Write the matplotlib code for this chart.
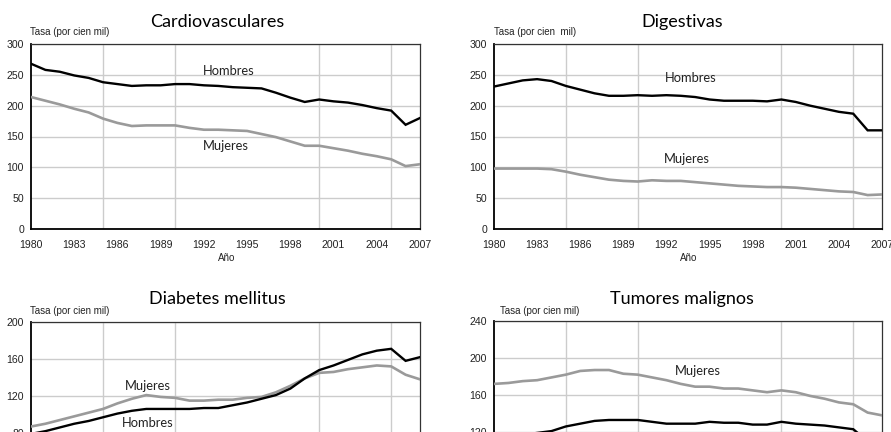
import matplotlib
matplotlib.use("Agg")
import matplotlib.pyplot as plt

years = list(range(1980, 2008))

cardio_h = [268, 258, 255, 249, 245, 238, 235, 232, 233, 233, 235, 235, 233, 232, 230, 229, 228,
            221, 213, 206, 210, 207, 205, 201, 196, 192, 169, 180]
cardio_m = [214, 208, 202, 195, 189, 179, 172, 167, 168, 168, 168, 164, 161, 161, 160, 159, 154,
            149, 142, 135, 135, 131, 127, 122, 118, 113, 102, 105]

dig_h = [231, 236, 241, 243, 240, 232, 226, 220, 216, 216, 217, 216, 217, 216, 214, 210, 208,
         208, 208, 207, 210, 206, 200, 195, 190, 187, 160, 160]
dig_m = [98, 98, 98, 98, 97, 93, 88, 84, 80, 78, 77, 79, 78, 78, 76, 74, 72,
         70, 69, 68, 68, 67, 65, 63, 61, 60, 55, 56]

diab_h = [79, 82, 86, 90, 93, 97, 101, 104, 106, 106, 106, 106, 107, 107, 110, 113, 117,
          121, 128, 139, 148, 153, 159, 165, 169, 171, 158, 162]
diab_m = [87, 90, 94, 98, 102, 106, 112, 117, 121, 119, 118, 115, 115, 116, 116, 118, 119,
          124, 131, 139, 145, 146, 149, 151, 153, 152, 143, 138]

tum_h = [112, 114, 117, 119, 121, 126, 129, 132, 133, 133, 133, 131, 129, 129, 129, 131, 130,
         130, 128, 128, 131, 129, 128, 127, 125, 123, 110, 108]
tum_m = [172, 173, 175, 176, 179, 182, 186, 187, 187, 183, 182, 179, 176, 172, 169, 169, 167,
         167, 165, 163, 165, 163, 159, 156, 152, 150, 141, 138]

titles = ["Cardiovasculares", "Digestivas", "Diabetes mellitus", "Tumores malignos"]
ylabels = ["Tasa (por cien mil)", "Tasa (por cien  mil)", "Tasa (por cien mil)", "Tasa (por cien mil)"]
xtick_years = list(range(1980, 2008, 3))
grid_years = [1985, 1990, 1995, 2000, 2005]

W, H = 891, 432
fig = plt.figure(figsize=(W / 100, H / 100), dpi=100)
fig.patch.set_facecolor("white")

TFONT = "Lato"
NFONT = "Liberation Sans"

# panel boxes in pixels: left, top, right, bottom
boxes = [(31, 44, 420, 229), (494, 44, 882, 229), (31, 322, 420, 507), (494, 321, 882, 506)]
ylims = [(0, 300, 50), (0, 300, 50), (0, 200, 40), (40, 240, 40)]
series = [(cardio_h, cardio_m), (dig_h, dig_m), (diab_h, diab_m), (tum_h, tum_m)]
title_x = [217, 682, 217, 682]
title_y = [22, 22, 299, 299]
ylab_x = [30, 494, 30, 500]
ylab_y = [32, 32, 311, 311]
# label positions (year, value)
lab_h = [(1993.7, 257), (1993.7, 245.5), (1988.1, 90.3), None]
lab_m = [(1993.5, 135), (1993.4, 114), (1988.1, 130.3), (1994.2, 185.7)]

for i in range(4):
    l, t, r, b = boxes[i]
    ax = fig.add_axes([l / W, (H - b) / H, (r - l) / W, (b - t) / H])
    y0, y1, step = ylims[i]
    ax.set_xlim(1980, 2007)
    ax.set_ylim(y0, y1)
    ax.set_yticks(list(range(y0, y1 + 1, step)))
    ax.set_xticks(xtick_years)
    ax.set_xticks(grid_years, minor=True)
    ax.grid(True, axis="y", which="major", color="#cccccc", lw=1.0)
    ax.grid(True, axis="x", which="minor", color="#cccccc", lw=1.0)
    ax.grid(False, axis="x", which="major")
    ax.tick_params(which="both", length=0, labelsize=7.6, colors="#222222", pad=5)
    ax.tick_params(axis="x", pad=8)
    for lab in ax.get_xticklabels() + ax.get_yticklabels():
        lab.set_fontfamily(NFONT)
    ax.set_axisbelow(True)
    for s in ["left", "bottom"]:
        ax.spines[s].set_color("black")
        ax.spines[s].set_linewidth(1.3)
    for s in ["top", "right"]:
        ax.spines[s].set_color("#333333")
        ax.spines[s].set_linewidth(0.9)

    h, m = series[i]
    ax.plot(years, m, color="#9a9a9a", lw=1.9, solid_joinstyle="miter", zorder=3)
    ax.plot(years, h, color="black", lw=1.7, solid_joinstyle="miter", zorder=4)

    if lab_h[i] is not None:
        ax.text(lab_h[i][0], lab_h[i][1], "Hombres", fontfamily=TFONT, fontsize=9.3,
                color="#222222", ha="center", va="center", zorder=5)
    ax.text(lab_m[i][0], lab_m[i][1], "Mujeres", fontfamily=TFONT, fontsize=9.3,
            color="#222222", ha="center", va="center", zorder=5)

    fig.text(title_x[i] / W, 1 - title_y[i] / H, titles[i], fontfamily=TFONT, fontsize=13,
             ha="center", va="center", color="black")
    fig.text(ylab_x[i] / W, 1 - ylab_y[i] / H, ylabels[i], fontfamily=NFONT, fontsize=7,
             ha="left", va="center", color="#222222")
    if i < 2:
        fig.text(((l + r) / 2 + 1) / W, 1 - 258 / H, "Año", fontfamily=NFONT, fontsize=7,
                 ha="center", va="center", color="#222222")

fig.savefig("out.png", dpi=100, facecolor="white")
